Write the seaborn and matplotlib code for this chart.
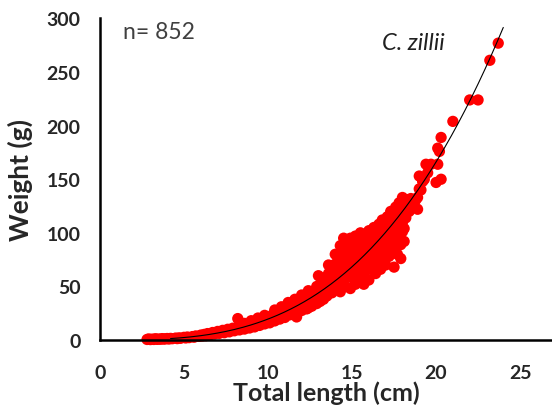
import numpy as np
import pandas as pd
import matplotlib
matplotlib.use("Agg")
import matplotlib.pyplot as plt
import seaborn as sns

# ---- data ----
length_cm = [
    2.8, 2.9, 3.0, 3.1, 3.2, 3.3, 3.4, 3.5, 3.6, 3.7, 3.8, 3.9, 4.0, 4.1, 4.2, 4.3,
    4.5, 4.6, 4.7, 4.8, 5.0, 5.1, 5.2, 5.3, 5.5, 5.6, 5.7, 5.9, 6.0, 6.1,
    6.2, 6.3, 6.4, 6.5, 6.6, 6.7, 6.8, 6.9, 7.0, 7.1, 7.2, 7.3, 7.4, 7.5, 7.6, 7.7,
    7.8, 7.9, 8.0, 8.1, 8.2, 8.2, 8.3, 8.4, 8.5, 8.6, 8.7, 8.8, 8.9, 9.0, 9.1, 9.2,
    9.3, 9.4, 9.5, 9.6, 9.7, 9.8, 9.9, 10.0,
    10.1, 10.2, 10.3, 10.4, 10.5, 10.6, 10.7, 10.8, 10.9, 11.0, 11.1, 11.2, 11.3,
    11.4, 11.5, 11.6, 11.7, 11.8, 11.9, 12.0, 12.1, 12.2, 12.3, 12.4, 12.5, 12.6,
    12.7, 12.8, 12.9, 13.0, 13.0, 13.1, 13.1,
    13.2, 13.3, 13.3, 13.4, 13.5, 13.5, 13.6, 13.7, 13.7, 13.8, 13.9, 13.9, 14.0,
    14.0, 14.1, 14.2, 14.2, 14.3, 14.3, 14.4, 14.5, 14.5, 14.6, 14.6, 14.7, 14.8,
    14.8, 14.9, 14.9, 15.0, 15.0,
    15.1, 15.1, 15.2, 15.2, 15.3, 15.4, 15.4, 15.5, 15.5, 15.6, 15.7, 15.7, 15.8,
    15.9, 15.9, 16.0, 16.0, 16.1, 16.2, 16.2, 16.3, 16.4, 16.4, 16.5, 16.5, 16.6,
    16.7, 16.7, 16.8, 16.9, 16.9, 17.0, 17.0,
    17.1, 17.2, 17.2, 17.3, 17.3, 17.4, 17.5, 17.5, 17.6, 17.6, 17.7, 17.8, 17.8,
    17.9, 17.9, 18.0, 18.0, 18.0, 18.1, 18.2, 18.3, 18.4, 18.5, 18.6, 18.8, 18.9,
    19.0, 19.0, 19.2,
    19.4, 19.7, 20.0, 20.1, 20.1, 20.2, 20.3, 20.3, 21.0, 22.0, 22.5, 23.2, 23.7,
    12.6, 12.8, 12.9, 13.0, 13.2, 13.4, 13.6, 13.8, 14.0, 14.1, 14.2, 14.4, 14.4,
    14.6, 14.7, 14.7, 14.9, 15.0, 15.0, 15.2, 15.3, 15.4, 15.6, 15.6, 15.8, 15.8,
    16.0, 16.0, 16.2, 16.3, 16.4, 16.6, 16.6, 16.8, 16.8, 17.0, 17.0, 17.1, 17.2,
    17.4, 17.4, 17.6, 17.7, 17.8, 18.0, 18.1, 18.2, 18.3, 18.5, 18.7, 18.9, 19.1,
    19.3, 19.5, 14.5, 15.2, 13.6, 14.0, 12.2, 12.4, 11.8, 11.6, 11.0, 11.3, 10.6,
    10.2,
    8.6, 9.0, 9.4, 9.8, 10.4, 10.8, 11.2, 11.6, 12.0, 12.4,
]
weight_g = [
    0.5, 1.0, 0.4, 0.8, 0.5, 1.2, 0.6, 0.9, 0.7, 1.3, 0.8, 1.1, 1.4, 0.9, 1.5, 1.2,
    1.8, 1.3, 2.0, 1.6, 2.5, 1.9, 2.8, 2.2, 3.2, 2.6, 3.8, 3.4, 4.6, 3.7,
    5.2, 4.0, 6.0, 4.6, 5.4, 7.0, 5.6, 6.4, 8.0, 6.2, 7.4, 9.0, 6.8, 8.4, 10.0, 7.6,
    9.2, 11.0, 8.6, 10.4, 20.0, 12.0, 9.4, 11.6, 13.0, 10.2, 12.4, 14.5, 11.2, 13.4, 16.0, 12.2,
    14.8, 17.5, 13.6, 16.2, 19.0, 15.0, 17.8, 21.5,
    16.0, 19.5, 24.0, 17.8, 22.0, 26.5, 19.5, 24.5, 29.0, 21.0, 26.5, 32.0, 23.5,
    28.5, 34.0, 25.0, 21.5, 31.0, 37.0, 27.5, 33.5, 40.0, 29.0, 36.0, 43.0, 31.5,
    38.0, 46.0, 34.0, 41.0, 60.0, 49.0, 36.0,
    44.0, 52.0, 38.0, 58.0, 47.0, 41.0, 55.0, 64.0, 44.0, 51.0, 70.0, 58.0, 47.0,
    80.0, 62.0, 53.0, 72.0, 88.0, 45.0, 66.0, 57.0, 78.0, 92.0, 50.0, 70.0, 62.0,
    84.0, 48.0, 95.0, 74.0, 58.0,
    88.0, 66.0, 52.0, 97.0, 78.0, 70.0, 92.0, 60.0, 100.0, 82.0, 52.0, 74.0, 95.0,
    66.0, 87.0, 102.0, 56.0, 78.0, 92.0, 70.0, 105.0, 84.0, 62.0, 98.0, 75.0, 108.0,
    88.0, 66.0, 112.0, 95.0, 80.0, 104.0, 70.0,
    115.0, 92.0, 78.0, 120.0, 102.0, 86.0, 68.0, 112.0, 96.0, 124.0, 80.0, 108.0, 128.0,
    89.0, 76.0, 118.0, 133.0, 101.0, 104.0, 124.0, 131.0, 120.0, 132.0, 125.0, 131.0, 122.0,
    141.0, 153.0, 148.0,
    164.0, 164.0, 147.0, 164.0, 179.0, 176.0, 189.0, 150.0, 204.0, 224.0, 224.0, 261.0, 277.0,
    40.0, 36.0, 50.0, 45.0, 56.0, 48.0, 62.0, 44.0, 58.0, 72.0, 63.0, 84.0, 55.0,
    76.0, 60.0, 88.0, 67.0, 83.0, 92.0, 60.0, 86.0, 63.0, 72.0, 92.0, 58.0, 80.0,
    68.0, 90.0, 98.0, 76.0, 92.0, 84.0, 100.0, 72.0, 96.0, 88.0, 112.0, 100.0, 85.0,
    108.0, 96.0, 104.0, 116.0, 92.0, 110.0, 92.0, 114.0, 120.0, 124.0, 128.0, 133.0, 140.0,
    150.0, 156.0, 95.0, 94.0, 70.0, 68.0, 34.0, 30.0, 27.0, 31.0, 28.0, 30.0, 22.0,
    21.0,
    15.5, 18.0, 20.5, 23.0, 28.0, 31.0, 35.0, 38.0, 42.0, 46.0,
]

# power trendline W = a * L^b (coefficients) and its drawn span
fit_a = 0.016
fit_b = 3.087
fit_span = [4.2, 24.0]

x_ticks = [0, 5, 10, 15, 20, 25]
y_ticks = [0, 50, 100, 150, 200, 250, 300]
n_label = "n= 852"
species_label = "C. zillii"

df = pd.DataFrame({"Total length (cm)": length_cm, "Weight (g)": weight_g})
curve_L = np.linspace(fit_span[0], fit_span[1], 200)
curve_df = pd.DataFrame({"L": curve_L, "W": fit_a * curve_L ** fit_b})

sns.set_style("white")
plt.rcParams["font.family"] = ["Lato", "DejaVu Sans"]

fig = plt.figure(figsize=(5.52, 4.10), dpi=100)
ax = fig.add_axes([100 / 552, (410 - 341) / 410, 452 / 552, (341 - 19.5) / 410])

sns.scatterplot(data=df, x="Total length (cm)", y="Weight (g)", ax=ax,
                color="#ff0000", edgecolor="none", s=66, linewidth=0,
                clip_on=False, zorder=2)
sns.lineplot(data=curve_df, x="L", y="W", ax=ax, color="black", lw=0.8,
             zorder=3, sort=False)

ax.set_xlim(0, 26.9)
ax.set_ylim(0, 300)
ax.set_xticks(x_ticks)
ax.set_yticks(y_ticks)
ax.set_xticklabels([str(t) for t in x_ticks], fontsize=14, fontweight="bold")
ax.set_yticklabels([str(t) for t in y_ticks], fontsize=14, fontweight="bold")
ax.tick_params(axis="both", direction="out", length=5, width=1.5, color="black")
ax.tick_params(axis="x", pad=12)
ax.tick_params(axis="y", pad=9)

for side in ["top", "right"]:
    ax.spines[side].set_visible(False)
for side in ["left", "bottom"]:
    ax.spines[side].set_color("black")
    ax.spines[side].set_linewidth(1.8)

ax.set_xlabel("Total length (cm)", fontsize=18, fontweight="bold", labelpad=0)
ax.set_ylabel("Weight (g)", fontsize=19, fontweight="bold", labelpad=10)

ax.text(1.37, 288, n_label, fontsize=16.5, color="#404040", va="center", ha="left")
ax.text(16.8, 278, species_label, fontsize=17, color="#202020", style="italic",
        va="center", ha="left")

fig.savefig("out.png", dpi=100)
